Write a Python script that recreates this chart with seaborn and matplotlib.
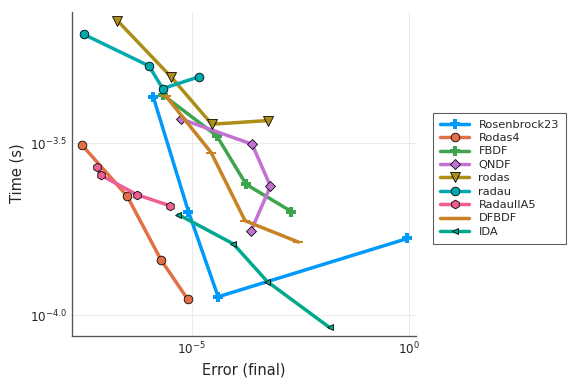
import pandas as pd
import seaborn as sns
import matplotlib.pyplot as plt
from matplotlib.ticker import FixedLocator, FixedFormatter, NullLocator

# Datos (error final, tiempo en s)
names = ["Rosenbrock23", "Rodas4", "FBDF", "QNDF", "rodas", "radau",
         "RadauIIA5", "DFBDF", "IDA"]

err_rosenbrock23 = [1.31e-6, 8.36e-6, 4.03e-5, 0.904]
time_rosenbrock23 = [4.30e-4, 2.00e-4, 1.13e-4, 1.67e-4]
err_rodas4 = [2.96e-8, 3.26e-7, 1.94e-6, 8.09e-6]
time_rodas4 = [3.13e-4, 2.22e-4, 1.45e-4, 1.11e-4]
err_fbdf = [2.22e-6, 3.76e-5, 1.77e-4, 1.95e-3]
time_fbdf = [4.36e-4, 3.32e-4, 2.40e-4, 2.00e-4]
err_qndf = [5.58e-6, 2.43e-4, 6.41e-4, 2.31e-4]
time_qndf = [3.72e-4, 3.14e-4, 2.37e-4, 1.76e-4]
err_rodas = [1.95e-7, 3.29e-6, 2.88e-5, 5.58e-4]
time_rodas = [7.19e-4, 4.94e-4, 3.59e-4, 3.68e-4]
err_radau = [3.34e-8, 1.03e-6, 2.15e-6, 1.45e-5]
time_radau = [6.55e-4, 5.31e-4, 4.56e-4, 4.93e-4]
err_radauiia5 = [6.55e-8, 8.22e-8, 5.45e-7, 3.12e-6]
time_radauiia5 = [2.70e-4, 2.55e-4, 2.24e-4, 2.08e-4]
err_dfbdf = [2.56e-6, 2.78e-5, 1.68e-4, 2.82e-3]
time_dfbdf = [4.33e-4, 2.97e-4, 1.88e-4, 1.63e-4]
err_ida = [4.92e-6, 9.04e-5, 5.47e-4, 1.46e-2]
time_ida = [1.96e-4, 1.61e-4, 1.25e-4, 9.20e-5]

errors = [err_rosenbrock23, err_rodas4, err_fbdf, err_qndf, err_rodas,
          err_radau, err_radauiia5, err_dfbdf, err_ida]
times = [time_rosenbrock23, time_rodas4, time_fbdf, time_qndf, time_rodas,
         time_radau, time_radauiia5, time_dfbdf, time_ida]

colores = ["#009AFA", "#E36F47", "#3EA44E", "#C371D2", "#AC8E18",
           "#00A9AD", "#ED5E93", "#C68225", "#00A98D"]
marcadores = ["P", "o", "P", "D", "v", "o", "h", "_", "<"]
tamaños = [6.5, 6.5, 6.5, 5, 7, 6.5, 6.5, 7, 4.5]

sns.set_style("white")
plt.rcParams['font.family'] = ['DejaVu Sans']

fig = plt.figure(figsize=(6, 4), dpi=96)
ax = fig.add_axes([0.1245, 0.126, 0.598, 0.844])

for nombre, x, y, c, m, s in zip(names, errors, times, colores, marcadores, tamaños):
    df = pd.DataFrame({"err": x, "time": y})
    edge = c if m in ("P", "_") else "black"
    sns.lineplot(data=df, x="err", y="time", sort=False, ax=ax, color=c,
                 linewidth=2.6, marker=m, markersize=s, markeredgecolor=edge,
                 markeredgewidth=0.6 if edge == "black" else 1.5, label=nombre)

ax.set_xscale("log")
ax.set_yscale("log")
ax.set_xlim(1.74e-8, 1.43)
ax.set_ylim(8.71e-5, 7.64e-4)

ax.xaxis.set_major_locator(FixedLocator([1e-5, 1.0]))
ax.xaxis.set_major_formatter(FixedFormatter([r"$10^{-5}$", r"$10^{0}$"]))
ax.xaxis.set_minor_locator(NullLocator())
ax.yaxis.set_major_locator(FixedLocator([10**-4.0, 10**-3.5]))
ax.yaxis.set_major_formatter(FixedFormatter([r"$10^{-4.0}$", r"$10^{-3.5}$"]))
ax.yaxis.set_minor_locator(NullLocator())

ax.grid(True, color="#e6e6e6", linewidth=0.6)
ax.tick_params(direction="in", length=3, labelsize=9, color="#444444")
for lado in ["top", "right"]:
    ax.spines[lado].set_visible(False)
for lado in ["left", "bottom"]:
    ax.spines[lado].set_color("#555555")
    ax.spines[lado].set_linewidth(1.0)

ax.set_xlabel("Error (final)", fontsize=11)
ax.set_ylabel("Time (s)", fontsize=11)

leg = ax.legend(loc="upper left", bbox_to_anchor=(0.752, 0.706),
                bbox_transform=fig.transFigure, fontsize=8.5, frameon=True,
                fancybox=False, handlelength=2.6, borderpad=0.6,
                labelspacing=0.3, borderaxespad=0)
leg.get_frame().set_edgecolor("#333333")
leg.get_frame().set_linewidth(0.8)

fig.savefig("out.png", dpi=96)
